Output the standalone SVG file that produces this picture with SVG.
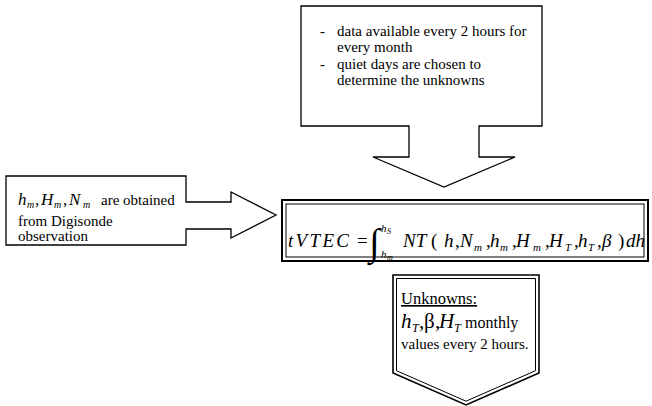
<svg xmlns="http://www.w3.org/2000/svg" width="652" height="406" viewBox="0 0 652 406">
<style>
.sh{fill:#fff;stroke:#000;stroke-width:1.3;stroke-linejoin:miter}
.thn{fill:none;stroke:#000;stroke-width:1}
.t{font-family:"Liberation Serif","Times New Roman",serif;font-size:15px;fill:#000}
.i{font-style:italic}
.f{font-size:19px}
.sb{font-size:11px}
</style>
<rect width="652" height="406" fill="#fff"/>
<g id="note-data">
<path class="sh" d="M301,6 H542 V126 H479 V157 H515 L444,187 L373,157 H409 V126 H301 Z"/>
<text class="t" x="320" y="36">-</text>
<text class="t" x="337" y="36">data available every 2 hours for</text>
<text class="t" x="337" y="52">every month</text>
<text class="t" x="320" y="69">-</text>
<text class="t" x="337" y="69">quiet days are chosen to</text>
<text class="t" x="337" y="85">determine the unknowns</text>
</g>
<g id="note-digisonde">
<path class="sh" d="M6,176 H186 V202 H231 V192 L276,215 L231,238 V229 H186 V245 H6 Z"/>
<text class="t i" style="font-size:17px" x="18" y="205">h</text>
<text class="t i" style="font-size:10px" x="27" y="208">m</text>
<text class="t" style="font-size:17px" x="35" y="205">,</text>
<text class="t i" style="font-size:17px" x="41" y="205">H</text>
<text class="t i" style="font-size:10px" x="54" y="208">m</text>
<text class="t" style="font-size:17px" x="63" y="205">,</text>
<text class="t i" style="font-size:17px" x="69" y="205">N</text>
<text class="t i" style="font-size:10px" x="83" y="208">m</text>
<text class="t" x="101" y="205">are obtained</text>
<text class="t" x="18" y="226">from Digisonde</text>
<text class="t" x="18" y="241">observation</text>
</g>
<g id="formula">
<rect class="sh" x="282" y="200" width="366" height="61" style="stroke-width:2"/>
<rect class="thn" x="286" y="204" width="358" height="53"/>
<text class="t i f" x="288" y="247" textLength="61" lengthAdjust="spacing">tVTEC</text>
<text class="t f" x="357" y="247">=</text>
<text class="t" style="font-size:38px" x="369" y="255">∫</text>
<text class="t i sb" x="381" y="232">h</text>
<text class="t i" style="font-size:8px" x="387" y="234">S</text>
<text class="t i sb" x="381" y="258">h</text>
<text class="t i" style="font-size:8px" x="387" y="260">m</text>
<text class="t i f" x="403" y="247">NT</text>
<text class="t f" x="431" y="247">(</text>
<text class="t i f" x="444" y="247">h</text>
<text class="t f" x="455" y="247">,</text>
<text class="t i f" x="460" y="247">N</text>
<text class="t i sb" x="474" y="251">m</text>
<text class="t f" x="486" y="247">,</text>
<text class="t i f" x="490" y="247">h</text>
<text class="t i sb" x="500" y="251">m</text>
<text class="t f" x="512" y="247">,</text>
<text class="t i f" x="516" y="247">H</text>
<text class="t i sb" x="533" y="251">m</text>
<text class="t f" x="545" y="247">,</text>
<text class="t i f" x="549" y="247">H</text>
<text class="t i sb" x="565" y="251">T</text>
<text class="t f" x="574" y="247">,</text>
<text class="t i f" x="578" y="247">h</text>
<text class="t i sb" x="588" y="251">T</text>
<text class="t f" x="597" y="247">,</text>
<text class="t i f" x="602" y="247">β</text>
<text class="t f" x="618" y="247">)</text>
<text class="t i f" x="626" y="247">dh</text>
</g>
<g id="unknowns">
<path class="sh" d="M393,275 H539 V373 L466,405 L393,373 Z" style="stroke-width:1.6"/>
<path class="thn" d="M396.5,278.5 H535.5 V370.7 L466,401.2 L396.5,370.7 Z"/>
<text class="t" style="font-size:16.5px;text-decoration:underline" x="401" y="304">Unknowns:</text>
<text class="t i" style="font-size:21px" x="401" y="328">h</text>
<text class="t i" style="font-size:12px" x="412" y="332">T</text>
<text class="t" style="font-size:21px" x="419" y="328">,</text>
<text class="t" style="font-size:21px" x="424" y="328">β</text>
<text class="t" style="font-size:21px" x="435" y="328">,</text>
<text class="t i" style="font-size:21px" x="439" y="328">H</text>
<text class="t i" style="font-size:12px" x="454" y="332">T</text>
<text class="t" style="font-size:16px" x="465" y="328">monthly</text>
<text class="t" x="401" y="349">values every 2 hours.</text>
</g>
</svg>
